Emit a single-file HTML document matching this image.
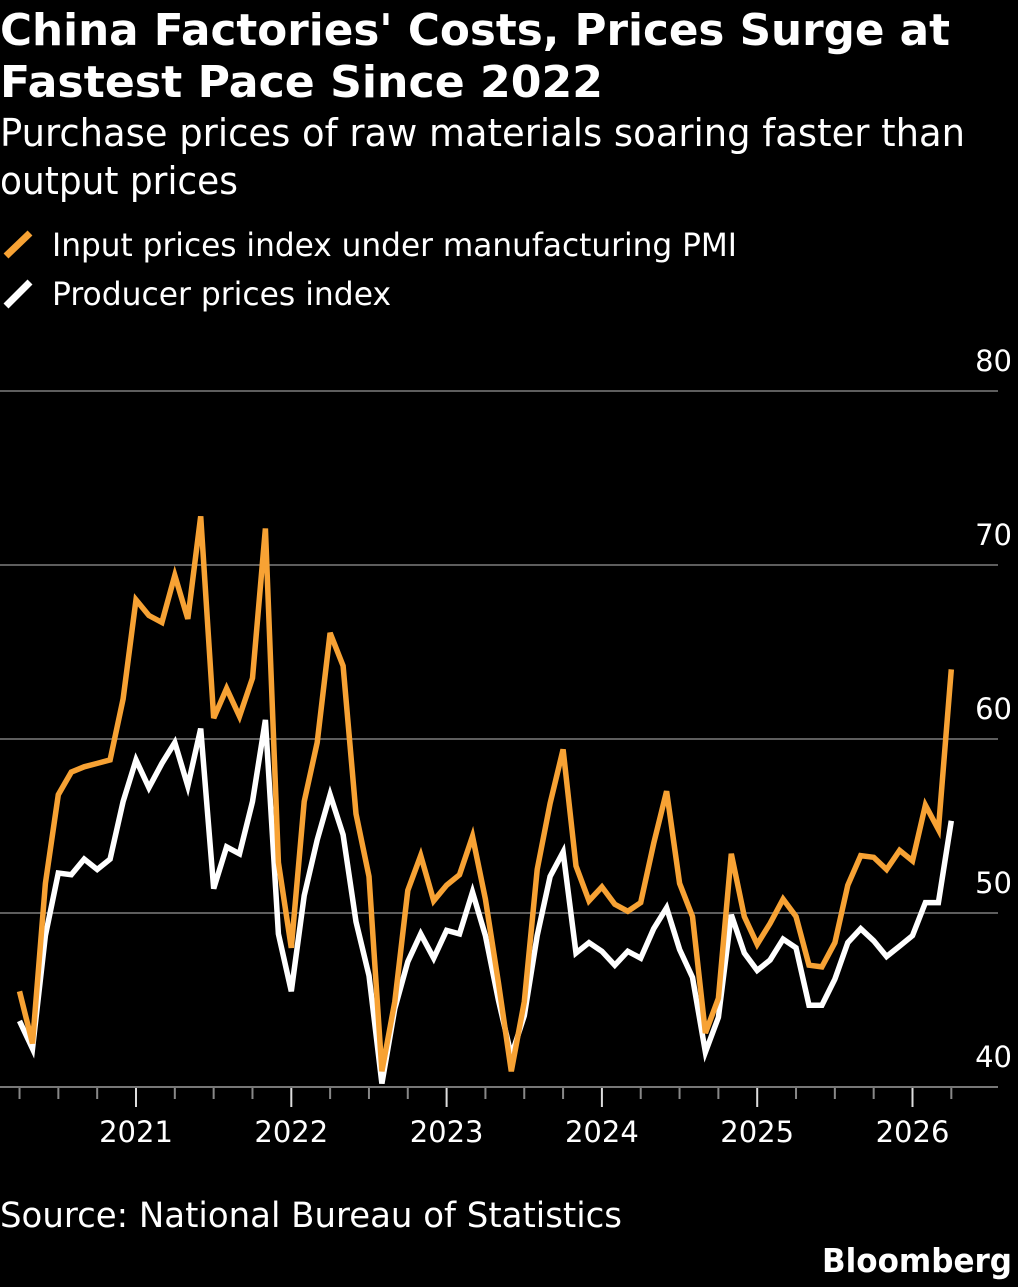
<!DOCTYPE html>
<html><head><meta charset="utf-8"><style>
html,body{margin:0;padding:0;background:#000;}
svg{display:block;font-family:"DejaVu Sans","Liberation Sans",sans-serif;}
</style></head><body>
<svg id="chart" width="1018" height="1287" viewBox="0 0 1018 1287" xmlns="http://www.w3.org/2000/svg">
<rect width="1018" height="1287" fill="#000"/>
<text x="0" y="45" fill="#fff" font-weight="bold" font-size="44" textLength="950" lengthAdjust="spacingAndGlyphs">China Factories' Costs, Prices Surge at</text>
<text x="0" y="97" fill="#fff" font-weight="bold" font-size="44" textLength="603" lengthAdjust="spacingAndGlyphs">Fastest Pace Since 2022</text>
<text x="0" y="146" fill="#fff" font-size="38" textLength="965" lengthAdjust="spacingAndGlyphs">Purchase prices of raw materials soaring faster than</text>
<text x="0" y="194" fill="#fff" font-size="38" textLength="238" lengthAdjust="spacingAndGlyphs">output prices</text>
<g>
<line x1="6" y1="256" x2="30" y2="233" stroke="#f7a234" stroke-width="7"/>
<text x="52" y="256" fill="#fff" font-size="32" textLength="685" lengthAdjust="spacingAndGlyphs">Input prices index under manufacturing PMI</text>
<line x1="6" y1="306" x2="30" y2="282" stroke="#fff" stroke-width="7"/>
<text x="52" y="305" fill="#fff" font-size="32" textLength="339" lengthAdjust="spacingAndGlyphs">Producer prices index</text>
</g>
<g id="grid"></g>
<g id="axis"></g>
<g id="series"></g>
<text x="0" y="1227" fill="#fff" font-size="35" textLength="622" lengthAdjust="spacingAndGlyphs">Source: National Bureau of Statistics</text>
<text x="1012" y="1272" fill="#fff" font-weight="bold" font-size="33" text-anchor="end" textLength="190" lengthAdjust="spacingAndGlyphs">Bloomberg</text>
</svg>
<script>
const yTicks = [40, 50, 60, 70, 80];
const yearLabels = ["2021", "2022", "2023", "2024", "2025", "2026"];
const startYear = 2020, startMonth = 4; // April 2020
const inputPrices = [45.5,42.5,51.7,56.8,58.1,58.4,58.6,58.8,62.3,68.0,67.1,66.7,69.4,66.9,72.8,61.2,62.9,61.3,63.5,72.1,52.9,48.0,56.4,59.8,66.1,64.2,55.7,52.1,40.9,44.9,51.3,53.3,50.7,51.6,52.2,54.4,50.8,46.0,40.9,44.9,52.5,56.3,59.4,52.7,50.7,51.5,50.5,50.1,50.6,54.0,57.0,51.7,49.8,43.1,45.1,53.4,49.8,48.2,49.4,50.8,49.8,47.0,46.9,48.3,51.6,53.3,53.2,52.5,53.6,53.0,56.2,54.8,64.0];
const producerPrices = [43.8,42.2,48.7,52.3,52.2,53.1,52.5,53.1,56.4,58.8,57.2,58.6,59.8,57.3,60.6,51.4,53.8,53.4,56.4,61.1,48.8,45.5,51.0,54.2,56.8,54.5,49.5,46.4,40.2,44.5,47.2,48.8,47.4,49.0,48.8,51.2,48.7,45.0,41.8,44.1,48.7,52.1,53.5,47.7,48.3,47.8,47.0,47.8,47.4,49.1,50.3,47.9,46.3,42.0,44.0,49.9,47.7,46.7,47.3,48.5,48.0,44.7,44.7,46.2,48.3,49.1,48.4,47.5,48.1,48.7,50.6,50.6,55.3];

const NS = "http://www.w3.org/2000/svg";
const y = v => 1087 - (v - 40) * 17.4;
const monthPx = 155.3 / 12;
const xm = m => 136 + (m - 12 * 2021 - 0) * monthPx; // m = absolute month index (year*12 + month-1)
const xi = i => xm(startYear * 12 + startMonth - 1 + i);

const grid = document.getElementById('grid');
yTicks.forEach(t => {
  const l = document.createElementNS(NS, 'line');
  
  
  l.setAttribute('x1', 0); l.setAttribute('x2', 998);
  l.setAttribute('y1', y(t)); l.setAttribute('y2', y(t));
  l.setAttribute('stroke', t === 40 ? '#777' : '#5e5e5e');
  l.setAttribute('stroke-width', 2);
  grid.appendChild(l);
  const tx = document.createElementNS(NS, 'text');
  
  
  tx.setAttribute('x', 1012); tx.setAttribute('y', y(t) - 20);
  tx.setAttribute('text-anchor', 'end'); tx.setAttribute('fill', '#fff');
  tx.setAttribute('font-size', '29');
  tx.textContent = t;
  grid.appendChild(tx);
});

const axis = document.getElementById('axis');
for (let m = startYear * 12 + 3; m <= 2026 * 12 + 6; m += 3) {
  const major = (m % 12) === 0;
  const l = document.createElementNS(NS, 'line');
  
  
  const xx = xm(m);
  if (xx > 960) break;
  l.setAttribute('x1', xx); l.setAttribute('x2', xx);
  l.setAttribute('y1', 1088); l.setAttribute('y2', major ? 1107 : 1099);
  l.setAttribute('stroke', major ? '#ddd' : '#888');
  l.setAttribute('stroke-width', 2);
  axis.appendChild(l);
}
yearLabels.forEach(lbl => {
  const tx = document.createElementNS(NS, 'text');
  
  
  tx.setAttribute('x', xm(parseInt(lbl) * 12));
  tx.setAttribute('y', 1142);
  tx.setAttribute('text-anchor', 'middle'); tx.setAttribute('fill', '#fff');
  tx.setAttribute('font-size', '29');
  tx.textContent = lbl;
  axis.appendChild(tx);
});

const series = document.getElementById('series');
function drawLine(vals, color, name) {
  const p = document.createElementNS(NS, 'polyline');
  
  
  p.setAttribute('points', vals.map((v, i) => xi(i).toFixed(1) + ',' + y(v).toFixed(1)).join(' '));
  p.setAttribute('fill', 'none'); p.setAttribute('stroke', color);
  p.setAttribute('stroke-width', 5.5); p.setAttribute('stroke-linejoin', 'miter');
  series.appendChild(p);
}
drawLine(producerPrices, '#ffffff', 'producer-prices-line');
drawLine(inputPrices, '#f7a234', 'input-prices-line');
</script>
</body></html>
